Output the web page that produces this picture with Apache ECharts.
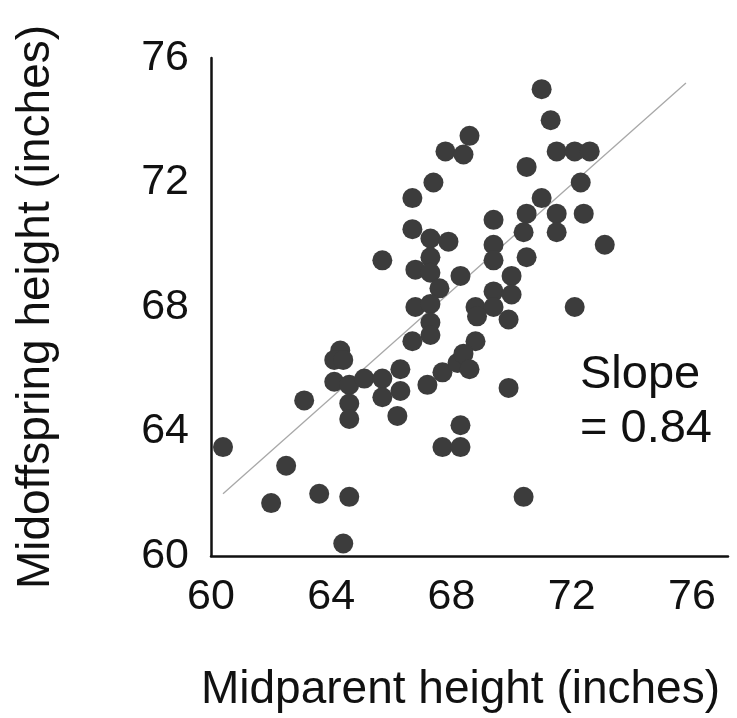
<!DOCTYPE html>
<html>
<head>
<meta charset="utf-8">
<script src="https://cdn.jsdelivr.net/npm/echarts@6/dist/echarts.min.js"></script>
<style>
  html, body { margin: 0; padding: 0; background: #fff; }
  #chart { width: 737px; height: 718px; }
</style>
</head>
<body>
<div id="chart"></div>
<script>
// midparent height (x) and midoffspring height (y), inches
var midparent = [
  68.6, 67.8, 68.4, 67.4, 66.7, 66.7, 67.3, 67.9, 65.7, 67.3, 66.8, 67.3, 68.3, 67.6, 66.8, 67.3, 68.8,
  71.0, 71.3, 71.5, 72.1, 72.6, 70.5, 72.3, 71.0, 69.4, 70.5, 71.5, 72.4, 70.4, 71.5, 69.4, 69.4, 70.5,
  73.1, 70.0, 69.4, 70.0, 69.4, 72.1,
  67.3, 67.3, 66.7, 68.8, 64.3, 64.1, 64.4, 64.1, 64.6, 65.1, 65.7, 66.3, 65.7, 66.3, 64.6, 64.6, 66.2,
  67.2, 67.7, 68.2, 68.4, 68.6, 63.1, 60.4, 62.5, 62.0, 63.6, 64.6, 64.4, 68.3, 67.7, 68.3,
  69.9, 69.9, 70.4, 68.85
];
var midoffspring = [
  73.5, 73.0, 72.9, 72.0, 71.5, 70.5, 70.2, 70.1, 69.5, 69.6, 69.2, 69.1, 69.0, 68.6, 68.0, 68.1, 68.0,
  75.0, 74.0, 73.0, 73.0, 73.0, 72.5, 72.0, 71.5, 70.8, 71.0, 71.0, 71.0, 70.4, 70.4, 70.0, 69.5, 69.6,
  70.0, 69.0, 68.5, 68.4, 68.0, 68.0,
  67.5, 67.1, 66.9, 66.9, 66.6, 66.3, 66.3, 65.6, 65.5, 65.7, 65.7, 66.0, 65.1, 65.3, 64.9, 64.4, 64.5,
  65.5, 65.9, 66.2, 66.5, 66.0, 65.0, 63.5, 62.9, 61.7, 62.0, 61.9, 60.4, 64.2, 63.5, 63.5,
  67.6, 65.4, 61.9, 67.7
];
// fitted line end points
var fitX = [60.4, 75.8];
var fitY = [62.0, 75.2];
var ticks = [60, 64, 68, 72, 76];

var font = '"Liberation Sans", Arial, Helvetica, sans-serif';
var chart = echarts.init(document.getElementById('chart'));

chart.setOption({
  animation: false,
  backgroundColor: '#ffffff',
  grid: { left: 211, top: 58, width: 517, height: 498 },
  xAxis: {
    type: 'value',
    min: 60,
    max: 77.2,
    interval: 4,
    name: 'Midparent height (inches)',
    nameLocation: 'middle',
    nameGap: 111,
    nameTextStyle: { fontFamily: font, fontSize: 46, color: '#111', padding: [0, 18, 0, 0] },
    axisLine: { onZero: false, lineStyle: { color: '#111', width: 2.5 } },
    axisTick: { show: false },
    splitLine: { show: false },
    axisLabel: {
      fontFamily: font, fontSize: 43, color: '#111', margin: 20,
      showMaxLabel: false,
      formatter: function (v) { return ticks.indexOf(v) >= 0 ? String(v) : ''; }
    }
  },
  yAxis: {
    type: 'value',
    min: 60,
    max: 76,
    interval: 4,
    name: 'Midoffspring height (inches)',
    nameLocation: 'middle',
    nameGap: 152,
    nameTextStyle: { fontFamily: font, fontSize: 46, color: '#111' },
    axisLine: { show: true, onZero: false, lineStyle: { color: '#111', width: 2.5 } },
    axisTick: { show: false },
    splitLine: { show: false },
    axisLabel: { fontFamily: font, fontSize: 43, color: '#111', margin: 22 }
  },
  graphic: [{
    type: 'text',
    left: 580,
    top: 348,
    style: {
      text: 'Slope\n= 0.84',
      font: '47px ' + font,
      lineHeight: 54,
      fill: '#111'
    }
  }],
  series: [
    {
      type: 'line',
      data: fitX.map(function (x, i) { return [x, fitY[i]]; }),
      symbol: 'none',
      z: 1,
      lineStyle: { color: '#a8a8a8', width: 1.3 }
    },
    {
      type: 'scatter',
      data: midparent.map(function (x, i) { return [x, midoffspring[i]]; }),
      symbolSize: 20,
      z: 2,
      itemStyle: { color: '#3c3c3c', opacity: 1 }
    }
  ]
});
</script>
</body>
</html>
